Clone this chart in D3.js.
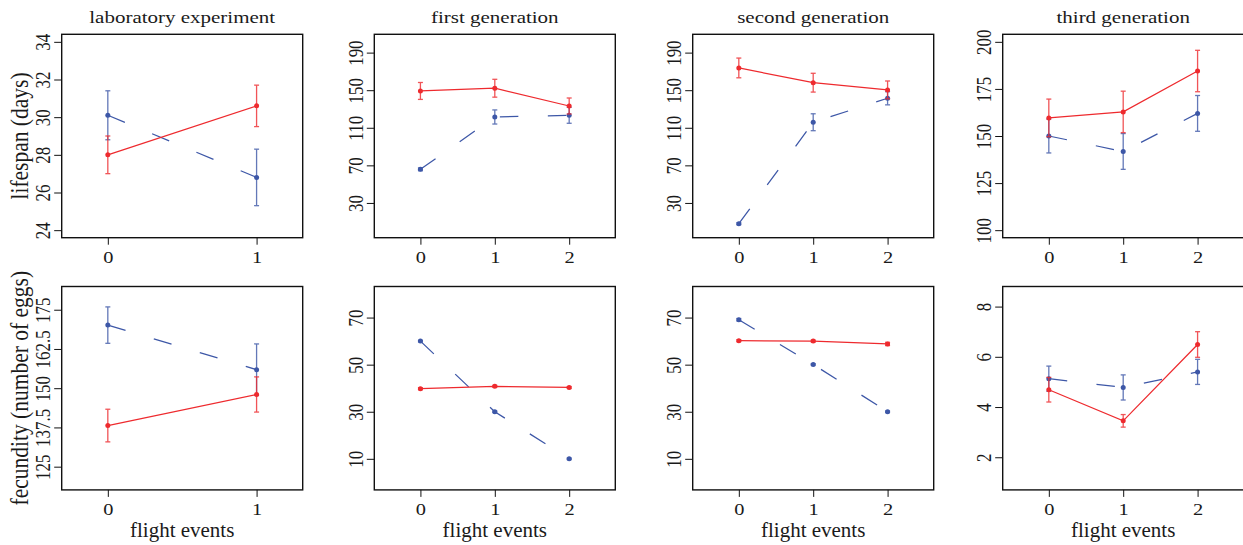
<!DOCTYPE html>
<html>
<head>
<meta charset="utf-8">
<script src="https://cdn.jsdelivr.net/npm/d3@7"></script>
<style>
  html, body { margin: 0; padding: 0; background: #fff; }
  svg { display: block; }
  text { font-family: "Liberation Serif", "DejaVu Serif", serif; fill: #1a1a1a; }
</style>
</head>
<body>
<svg id="chart" width="1243" height="545"></svg>
<script>
// ---- data ----------------------------------------------------------------
const panelTitles = ["laboratory experiment", "first generation", "second generation", "third generation"];
const rowLabels = ["lifespan (days)", "fecundity (number of eggs)"];
const xLabel = "flight events";

const labFlights = [0, 1];
const genFlights = [0, 1, 2];

// lifespan (days): mean and half-width of error bar, group A (red) and group B (blue)
const labLifeA = [28.0, 30.6],          labLifeAErr = [1.0, 1.1];
const labLifeB = [30.1, 26.8],          labLifeBErr = [1.3, 1.5];
const gen1LifeA = [149.2, 152.1, 133.2], gen1LifeAErr = [9.0, 9.5, 8.5];
const gen1LifeB = [65.8, 121.5, 123.3],  gen1LifeBErr = [1.5, 7.5, 8.5];
const gen2LifeA = [173.7, 158.0, 150.3], gen2LifeAErr = [10.5, 10.0, 9.5];
const gen2LifeB = [7.9, 115.9, 141.4],   gen2LifeBErr = [1.0, 9.0, 7.0];
const gen3LifeA = [159.6, 162.8, 184.5], gen3LifeAErr = [10.0, 11.0, 11.0];
const gen3LifeB = [150.0, 141.8, 162.0], gen3LifeBErr = [9.0, 9.5, 9.5];

// fecundity (number of eggs)
const labFecA = [138.1, 148.0],          labFecAErr = [5.2, 5.6];
const labFecB = [170.1, 155.9],          labFecBErr = [5.8, 8.2];
const gen1FecA = [39.8, 40.8, 40.3],     gen1FecAErr = [0.4, 0.4, 0.4];
const gen1FecB = [60.0, 30.0, 10.0],     gen1FecBErr = [0.3, 0.3, 0.3];
const gen2FecA = [60.2, 60.0, 58.8],     gen2FecAErr = [0.4, 0.4, 0.7];
const gen2FecB = [69.1, 50.1, 30.0],     gen2FecBErr = [0.5, 0.3, 0.3];
const gen3FecA = [4.69, 3.45, 6.49],     gen3FecAErr = [0.49, 0.25, 0.51];
const gen3FecB = [5.13, 4.78, 5.40],     gen3FecBErr = [0.5, 0.5, 0.5];

// axis ticks
const labLifeTicks = [24, 26, 28, 30, 32, 34];
const genLifeTicks = [30, 70, 110, 150, 190];
const gen3LifeTicks = [100, 125, 150, 175, 200];
const labFecTicks = [125, 137.5, 150, 162.5, 175];
const genFecTicks = [10, 30, 50, 70];
const gen3FecTicks = [2, 4, 6, 8];

// axis limits (with the usual 4% padding)
const labXLim = [-0.31, 1.31], genXLim = [-0.62, 2.62];
const labLifeLim = [23.6, 34.4], genLifeLim = [-7, 209.5], gen3LifeLim = [96, 204];
const labFecLim = [117.6, 182.4], genFecLim = [-3.2, 83.2], gen3FecLim = [0.7, 8.8];

// ---- panel table ---------------------------------------------------------
const panels = [
  { row: 0, col: 0, x: labFlights, xLim: labXLim, yLim: labLifeLim, yTicks: labLifeTicks,
    a: labLifeA, aErr: labLifeAErr, b: labLifeB, bErr: labLifeBErr },
  { row: 0, col: 1, x: genFlights, xLim: genXLim, yLim: genLifeLim, yTicks: genLifeTicks,
    a: gen1LifeA, aErr: gen1LifeAErr, b: gen1LifeB, bErr: gen1LifeBErr },
  { row: 0, col: 2, x: genFlights, xLim: genXLim, yLim: genLifeLim, yTicks: genLifeTicks,
    a: gen2LifeA, aErr: gen2LifeAErr, b: gen2LifeB, bErr: gen2LifeBErr },
  { row: 0, col: 3, x: genFlights, xLim: genXLim, yLim: gen3LifeLim, yTicks: gen3LifeTicks,
    a: gen3LifeA, aErr: gen3LifeAErr, b: gen3LifeB, bErr: gen3LifeBErr },
  { row: 1, col: 0, x: labFlights, xLim: labXLim, yLim: labFecLim, yTicks: labFecTicks,
    a: labFecA, aErr: labFecAErr, b: labFecB, bErr: labFecBErr },
  { row: 1, col: 1, x: genFlights, xLim: genXLim, yLim: genFecLim, yTicks: genFecTicks,
    a: gen1FecA, aErr: gen1FecAErr, b: gen1FecB, bErr: gen1FecBErr },
  { row: 1, col: 2, x: genFlights, xLim: genXLim, yLim: genFecLim, yTicks: genFecTicks,
    a: gen2FecA, aErr: gen2FecAErr, b: gen2FecB, bErr: gen2FecBErr },
  { row: 1, col: 3, x: genFlights, xLim: genXLim, yLim: gen3FecLim, yTicks: gen3FecTicks,
    a: gen3FecA, aErr: gen3FecAErr, b: gen3FecB, bErr: gen3FecBErr }
];

// ---- layout --------------------------------------------------------------
const colLeft = [61.7, 374.3, 692.7, 1002.7];
const rowTop = [34.3, 286.5];
const pw = 241, ph = 203.4;
const RED = "#ee2a2e", BLUE = "#3d57a7";
const tickFont = 17, labelFont = 21, titleFont = 17.5;
const wide = 1.2;   // glyphs are drawn a little wider than tall

const svg = d3.select("#chart");

panels.forEach(p => {
  const x0 = colLeft[p.col], y0 = rowTop[p.row];
  const xs = d3.scaleLinear().domain(p.xLim).range([x0, x0 + pw]);
  const ys = d3.scaleLinear().domain(p.yLim).range([y0 + ph, y0]);
  const g = svg.append("g");

  // y axis: outward ticks, labels rotated parallel to the axis
  const yAxis = d3.axisLeft(ys).tickValues(p.yTicks).tickSize(7.5).tickSizeOuter(0)
    .tickFormat(d3.format(""));
  const ya = g.append("g").attr("transform", `translate(${x0},0)`).call(yAxis);
  ya.select(".domain").remove();
  ya.selectAll(".tick line").attr("stroke", "#111").attr("stroke-width", 1);
  ya.selectAll(".tick text")
    .attr("x", null).attr("dy", null).attr("text-anchor", "middle")
    .attr("transform", `translate(-11.5,0) scale(${wide},1) rotate(-90)`)
    .style("font-size", tickFont + "px").style("font-family", "Liberation Serif, serif")
    .attr("fill", "#1a1a1a");

  // x axis
  const xAxis = d3.axisBottom(xs).tickValues(p.x).tickSize(7).tickSizeOuter(0)
    .tickFormat(d3.format("d"));
  const xa = g.append("g").attr("transform", `translate(0,${y0 + ph})`).call(xAxis);
  xa.select(".domain").remove();
  xa.selectAll(".tick line").attr("stroke", "#111").attr("stroke-width", 1);
  xa.selectAll(".tick text")
    .attr("y", null).attr("dy", null)
    .attr("transform", `translate(0,25) scale(${wide},1)`)
    .style("font-size", tickFont + "px").style("font-family", "Liberation Serif, serif")
    .attr("fill", "#1a1a1a");

  // plot frame
  g.append("rect")
    .attr("x", x0).attr("y", y0).attr("width", pw).attr("height", ph)
    .attr("fill", "none").attr("stroke", "#111").attr("stroke-width", 1.4);

  // one series: connecting line, error bars with caps, point markers
  const drawSeries = (vals, errs, color, dashed) => {
    const pts = p.x.map((xv, i) => ({ x: xv, y: vals[i], e: errs[i] }));
    const line = d3.line().x(d => xs(d.x)).y(d => ys(d.y));
    g.append("path").datum(pts)
      .attr("d", line).attr("fill", "none")
      .attr("stroke", color).attr("stroke-width", 1.25)
      .attr("stroke-dasharray", dashed ? "18.5,29.5" : null);
    const eb = g.append("g").attr("stroke", color).attr("stroke-width", 1.3).attr("opacity", 0.8);
    pts.forEach(d => {
      const cx = xs(d.x), top = ys(d.y + d.e), bot = ys(d.y - d.e);
      eb.append("line").attr("x1", cx).attr("x2", cx).attr("y1", top).attr("y2", bot);
      eb.append("line").attr("x1", cx - 2.5).attr("x2", cx + 2.5).attr("y1", top).attr("y2", top);
      eb.append("line").attr("x1", cx - 2.5).attr("x2", cx + 2.5).attr("y1", bot).attr("y2", bot);
    });
    g.append("g").selectAll("circle").data(pts).join("circle")
      .attr("cx", d => xs(d.x)).attr("cy", d => ys(d.y)).attr("r", 2.5)
      .attr("fill", color);
  };
  drawSeries(p.b, p.bErr, BLUE, true);
  drawSeries(p.a, p.aErr, RED, false);

  // titles over the top row, x label under the bottom row
  if (p.row === 0) {
    svg.append("text")
      .attr("transform", `translate(${x0 + pw / 2},23) scale(${wide},1)`)
      .attr("text-anchor", "middle")
      .style("font-size", titleFont + "px").text(panelTitles[p.col]);
  } else {
    svg.append("text").attr("x", x0 + pw / 2).attr("y", y0 + ph + 47.5).attr("text-anchor", "middle")
      .style("font-size", labelFont + "px").text(xLabel);
  }
  if (p.col === 0) {
    svg.append("text")
      .attr("transform", `translate(27.5,${y0 + ph / 2}) scale(1.18,1) rotate(-90)`)
      .attr("text-anchor", "middle")
      .style("font-size", "21.5px").text(rowLabels[p.row]);
  }
});
</script>
</body>
</html>
